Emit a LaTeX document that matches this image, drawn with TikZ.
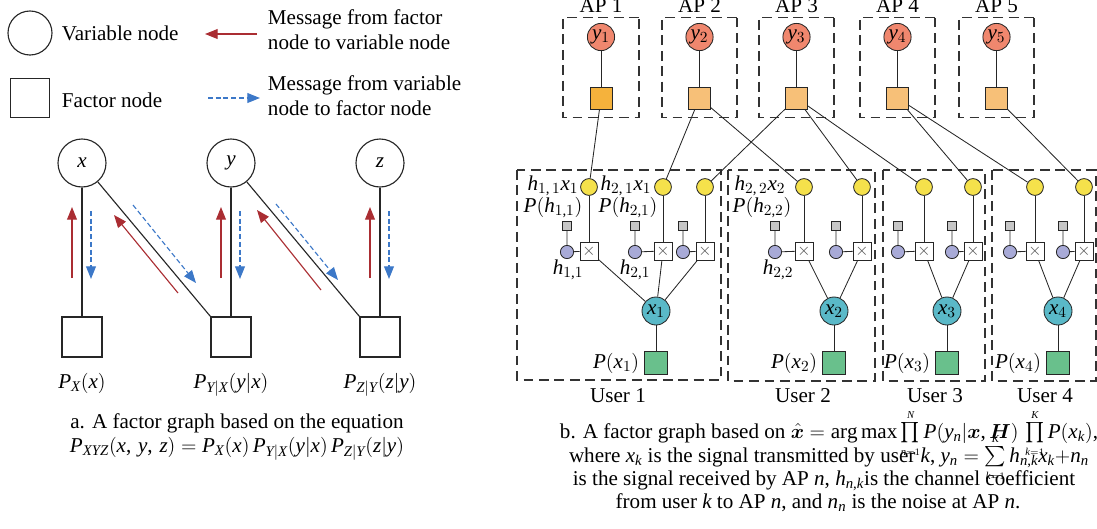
\documentclass[tikz,border=0pt]{standalone}
\usepackage{amsmath}
\usepackage{fontspec}
\setmainfont{Liberation Serif}[NFSSFamily=libser]
\usepackage{bm}
\usepackage{xcolor}
\usepackage{tikz}
\usetikzlibrary{positioning, arrows.meta}
% Times-like letters and digits in formulas
\DeclareSymbolFont{cmoperators}{OT1}{cmr}{m}{n}
\DeclareSymbolFont{letters}{TU}{libser}{m}{it}
\SetSymbolFont{letters}{bold}{TU}{libser}{b}{it}
\DeclareSymbolFont{operators}{TU}{libser}{m}{n}
\DeclareMathSymbol{,}{\mathpunct}{operators}{`,}
\DeclareMathAccent{\hat}{\mathalpha}{cmoperators}{"5E}
\newcommand{\lmt}[1]{{\scriptscriptstyle #1}}
\definecolor{MsgRed}{RGB}{170,45,50}
\definecolor{MsgBlue}{RGB}{60,120,200}
\definecolor{ApRed}{RGB}{240,135,110}
\definecolor{ApOrangeDark}{RGB}{245,178,60}
\definecolor{ApOrange}{RGB}{247,192,120}
\definecolor{SumYellow}{RGB}{245,225,75}
\definecolor{HLav}{RGB}{168,170,215}
\definecolor{XCyan}{RGB}{90,185,200}
\definecolor{XGreen}{RGB}{105,192,140}
\tikzset{
  varnode/.style={circle, draw=black!85, line width=0.8pt, fill=white, minimum size=1.2cm, inner sep=0pt},
  facnode/.style={draw=black!85, line width=0.8pt, fill=white, minimum size=1cm, inner sep=0pt},
  fmsg/.style={-{Triangle[length=9pt,width=7pt]}, line width=0.8pt, MsgRed},
  vmsg/.style={-{Triangle[length=9pt,width=7pt]}, line width=0.8pt, MsgBlue, dash pattern=on 3.5pt off 2pt},
  gedge/.style={line width=0.8pt, black!85},
  edge/.style={line width=0.6pt, black!85},
  grpbox/.style={draw=black!80, line width=0.8pt, dash pattern=on 7pt off 4pt},
  ynode/.style={circle, draw=black!85, line width=0.6pt, fill=ApRed, minimum size=0.68cm, inner sep=0pt},
  apfac/.style={draw=black!85, line width=0.6pt, fill=ApOrange, minimum size=0.55cm, inner sep=0pt},
  sumvar/.style={circle, draw=black!85, line width=0.6pt, fill=SumYellow, minimum size=0.42cm, inner sep=0pt},
  prodfac/.style={draw=black!85, line width=0.6pt, fill=white, minimum size=0.45cm, inner sep=0pt,
    font=\fontsize{12}{12}\selectfont, text=black!70},
  hvar/.style={circle, draw=black!85, line width=0.6pt, fill=HLav, minimum size=0.33cm, inner sep=0pt},
  hprior/.style={draw=black!85, line width=0.6pt, fill=gray!45, minimum size=0.24cm, inner sep=0pt},
  xvar/.style={circle, draw=black!85, line width=0.6pt, fill=XCyan, minimum size=0.7cm, inner sep=0pt},
  xprior/.style={draw=black!85, line width=0.6pt, fill=XGreen, minimum size=0.575cm, inner sep=0pt},
  lbl/.style={inner sep=1pt},
}

\begin{document}
\begin{tikzpicture}[x=0.025cm, y=-0.025cm, font=\fontsize{15}{18}\selectfont]
  \useasboundingbox (0,0) rectangle (1097,528);
  % legend
  \node[varnode, minimum size=1.1cm] (lvar) at (30,33) {};
  \node[anchor=west] (lvartxt) at (57,33) {Variable node};
  \node[facnode, minimum size=0.975cm] (lfac) at (30,98) {};
  \node[anchor=west] (lfactxt) at (57,100) {Factor node};
  \draw[fmsg] (257,34) -- (205,34);
  \draw[vmsg] (208,98) -- (260,98);
  \node[anchor=west, align=left] (lfmsg) at (263,30) {Message from factor\\node to variable node};
  \node[anchor=west, align=left] (lvmsg) at (263,96) {Message from variable\\node to factor node};
  % the chain x -> y -> z
  \foreach \v/\cx in {x/82, y/231, z/380} {
    \node[varnode] (\v) at (\cx,163) {$\v$};
    \node[facnode] (f\v) at (\cx,337) {};
    \draw[gedge] (\v) -- (f\v);
  }
  \draw[gedge] (x) -- (fy.north west);
  \draw[gedge] (y) -- (fz.north west);
  \foreach \cx in {82, 231, 380} {
    \draw[fmsg] (\cx-10,278) -- (\cx-10,207);
    \draw[vmsg] (\cx+9,211) -- (\cx+9,279);
  }
  \draw[fmsg] (178,293) -- (114,215);
  \draw[vmsg] (133,205) -- (196,283);
  \draw[fmsg] (321,290) -- (257,210);
  \draw[vmsg] (276,204) -- (338,280);
  \node[anchor=base] (lpx) at (82,388) {$P_X(x)$};
  \node[anchor=base] (lpy) at (231,388) {$P_{Y|X}(y|x)$};
  \node[anchor=base] (lpz) at (380,388) {$P_{Z|Y}(z|y)$};
  \node[anchor=base] (capa1) at (237,428) {a. A factor graph based on the equation};
  \node[anchor=base] (capa2) at (237,452) {$P_{XYZ}(x,\,y,\,z) = P_X(x)\,P_{Y|X}(y|x)\,P_{Z|Y}(z|y)$};

  % access points
  \foreach \a/\ax/\bx in {1/563/639, 2/662/737, 3/759/834, 4/860/935, 5/959/1034} {
    \draw[grpbox] (\bx,17.5) -- (\ax,17.5) -- (\ax,117.5) -- (\bx,117.5) -- cycle;
    \node[anchor=base] (ap\a) at ({(\ax+\bx)/2},12) {AP \a};
    \node[ynode] (y\a) at ({(\ax+\bx)/2},37) {$y_\a$};
    \node[apfac] (f\a) at ({(\ax+\bx)/2},98) {};
    \draw[edge] (y\a) -- (f\a);
  }
  \node[apfac, fill=ApOrangeDark] at (f1) {};

  % users
  \draw[grpbox] (517,170) rectangle (721,380);
  \draw[grpbox] (728,170) rectangle (875,381);
  \draw[grpbox] (883,170) rectangle (985,381);
  \draw[grpbox] (992,170) rectangle (1096,381);
  \foreach \k/\cx/\ux in {1/656/618, 2/834/803, 3/947/935, 4/1058/1045} {
    \node[xvar] (x\k) at (\cx,311) {$x_\k$};
    \node[xprior] (px\k) at (\cx,363) {};
    \node[anchor=east] (lpx\k) at (px\k.west) {$P(x_\k)$};
    \draw[edge] (x\k) -- (px\k);
    \node[anchor=base] (user\k) at (\ux,402) {User \k};
  }
  \foreach \k/\j/\sx/\hx in {1/1/589/567, 1/2/663/635, 1/3/705/683, 2/1/804/775, 2/2/862/836,
      3/1/924/898, 3/2/973/952, 4/1/1035/1010, 4/2/1084/1063} {
    \node[sumvar] (s\k-\j) at (\sx,187) {};
    \node[prodfac] (m\k-\j) at (\sx,251) {$\times$};
    \node[hvar] (h\k-\j) at (\hx,252) {};
    \node[hprior] (p\k-\j) at (\hx,226) {};
    \draw[edge] (s\k-\j) -- (m\k-\j);
    \draw[edge] (p\k-\j) -- (h\k-\j) -- (m\k-\j);
    \draw[edge] (m\k-\j) -- (x\k);
  }
  % links from the APs to the users
  \foreach \a/\k/\j in {1/1/1, 2/1/2, 2/2/1, 3/1/3, 3/2/2, 3/3/1, 4/3/2, 4/4/1, 5/4/2}
    \draw[edge] (f\a) -- (s\k-\j);
  \node[lbl] (l11) at (553,186) {$h_{1,\,1}x_1$};
  \node[lbl] (lp11) at (553,208) {$P(h_{1,1})$};
  \node[lbl] (l21) at (626,186) {$h_{2,\,1}x_1$};
  \node[lbl] (lp21) at (628,208) {$P(h_{2,1})$};
  \node[lbl] (l22) at (760,186) {$h_{2,\,2}x_2$};
  \node[lbl] (lp22) at (762,208) {$P(h_{2,2})$};
  \node[lbl] (lh11) at (568,270) {$h_{1,1}$};
  \node[lbl] (lh21) at (635,270) {$h_{2,1}$};
  \node[lbl] (lh22) at (778,270) {$h_{2,2}$};

  % caption b
  \node[anchor=base] (capb1) at (829,438) {b. A factor graph based on $\hat{\bm{x}} = \arg\max\prod\limits_{\lmt{n=1}}^{\lmt{N}} P(y_n|\bm{x},\bm{H})\,\prod\limits_{\lmt{k=1}}^{\lmt{K}} P(x_k)$,};
  \node[anchor=base] (capb2) at (829,462) {where $x_k$ is the signal transmitted by user $k$, $y_n = \sum\limits_{\lmt{k=1}}^{\lmt{K}} h_{n,k}x_k{+}n_n$};
  \node[anchor=base] (capb3) at (824,485) {is the signal received by AP $n$, $h_{n,k}$is the channel coefficient};
  \node[anchor=base] (capb4) at (818,508) {from user $k$ to AP $n$, and $n_n$ is the noise at AP $n$.};
\end{tikzpicture}
\end{document}
